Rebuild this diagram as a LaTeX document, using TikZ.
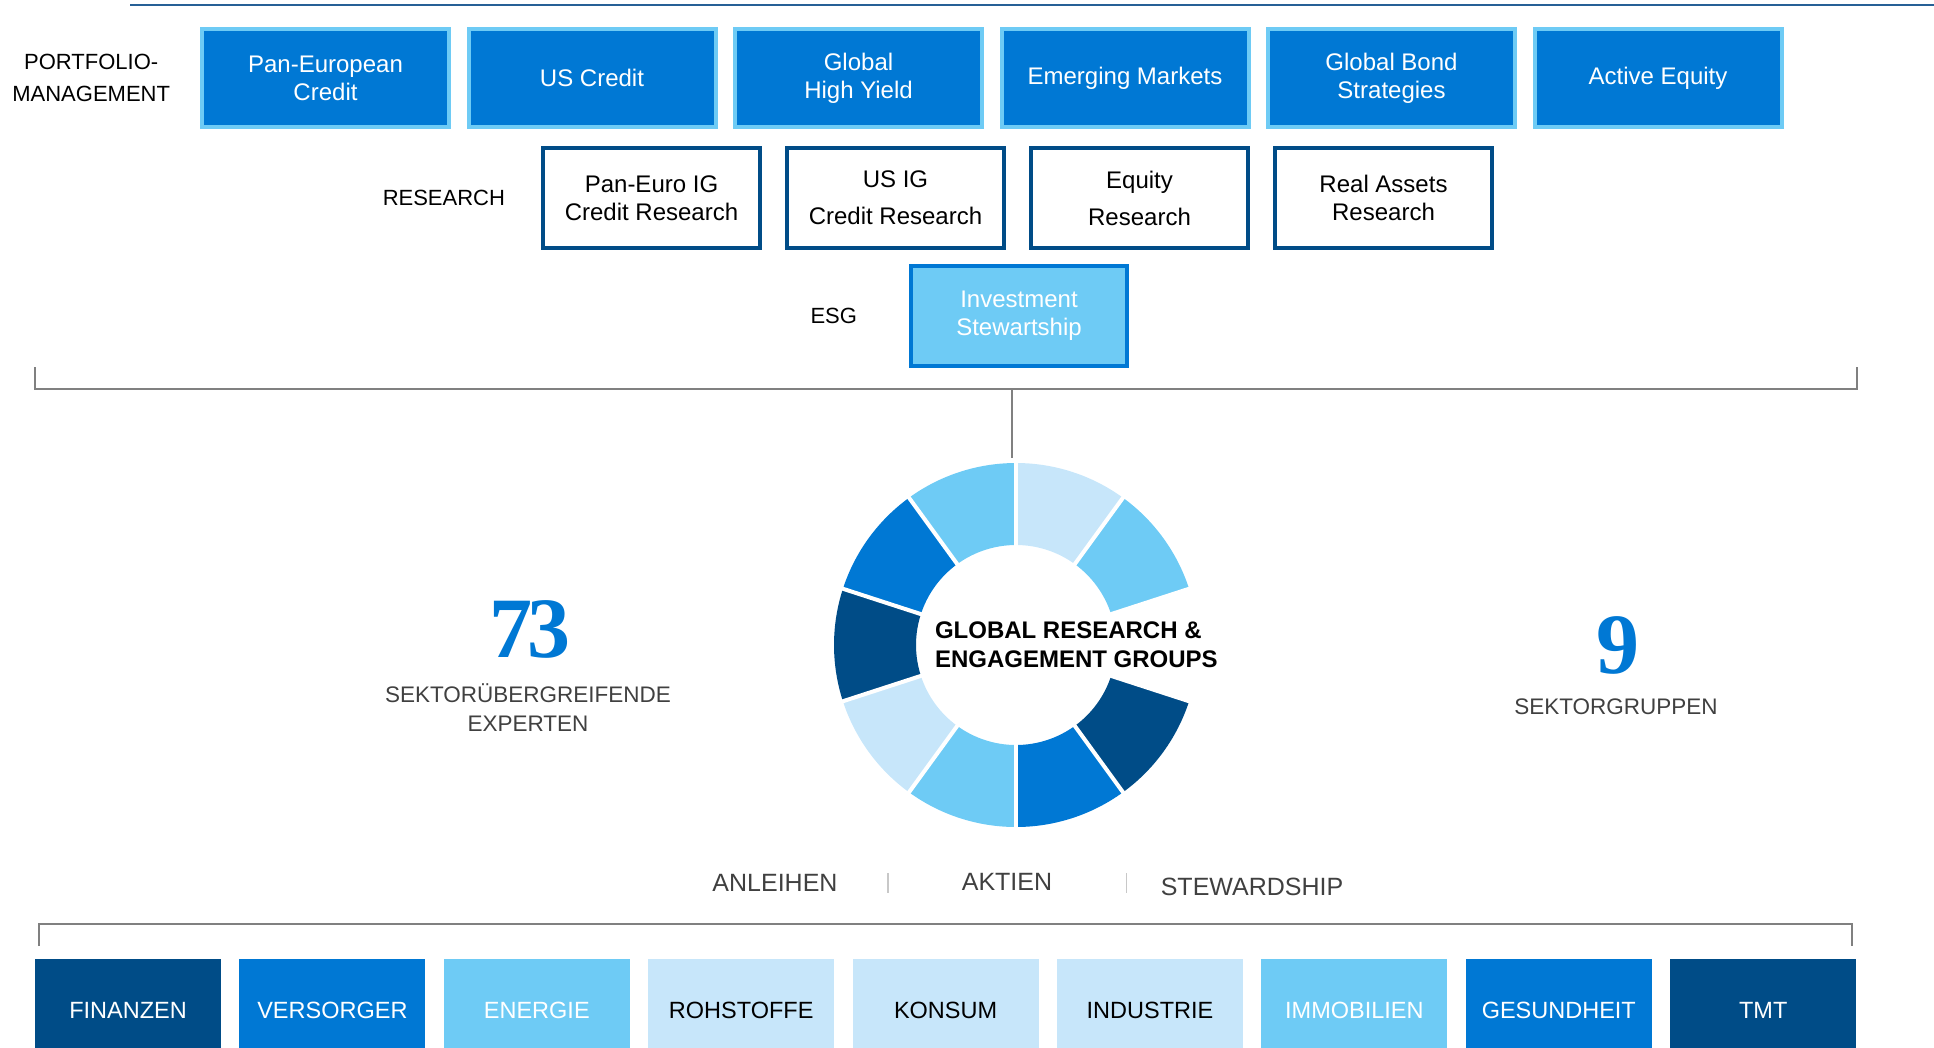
\documentclass[tikz,border=0pt]{standalone}
\usepackage{fontspec}
\setmainfont{Liberation Sans}
\newfontfamily\numberfont{Liberation Serif}
\usetikzlibrary{positioning}

\definecolor{navy}{RGB}{0,76,135}
\definecolor{azure}{RGB}{0,120,212}
\definecolor{sky}{RGB}{110,203,245}
\definecolor{pale}{RGB}{199,230,250}
\definecolor{rule}{RGB}{128,128,128}
\definecolor{divider}{RGB}{200,200,200}
\definecolor{textgray}{RGB}{64,64,64}
\definecolor{topline}{RGB}{38,96,150}

\tikzset{
	pmbox/.style={fill=azure, draw=sky, line width=4pt, minimum width=247pt, minimum height=98pt, text=white, align=center, font=\fontsize{24}{28}\selectfont},
	resbox/.style={fill=white, draw=navy, line width=4pt, minimum width=217pt, minimum height=100pt, align=center, font=\fontsize{24}{28}\selectfont},
	esgbox/.style={fill=sky, draw=azure, line width=4pt, minimum width=216pt, minimum height=100pt, text=white, align=center, font=\fontsize{24}{28}\selectfont},
	sectorbox/.style={minimum width=186pt, minimum height=102pt, font=\fontsize{23.5}{28}\selectfont},
	rowlabel/.style={align=center, font=\fontsize{22}{32}\selectfont},
	bigfigure/.style={text=azure, font=\numberfont\bfseries\fontsize{86}{86}\selectfont},
	figlabel/.style={text=textgray, align=center, font=\fontsize{22.5}{29}\selectfont},
	pillar/.style={text=textgray, font=\fontsize{25}{30}\selectfont},
	bracket/.style={draw=rule, line width=2.5pt},
}

\begin{document}
\begin{tikzpicture}[
		x=1pt, y=1pt,
		every node/.style={inner sep=0pt, outer sep=0pt},
	]
		\useasboundingbox (0,0) rectangle (1934,-1047);
		
		\coordinate (rule start) at (130,-5);
		\coordinate (rule end) at (1934,-5);
		\draw[topline, line width=2.5pt] (rule start) -- (rule end);
		
		\begin{scope}
			\node (pan eu) [pmbox] at (325.5,-78) {Pan-European\\Credit};
			\node (us credit) [pmbox, right=19.5pt of pan eu] {US Credit};
			\node (high yield) [pmbox, right=19.5pt of us credit] {Global\\High Yield};
			\node (em) [pmbox, right=19.5pt of high yield] {Emerging Markets};
			\node (bonds) [pmbox, right=19.5pt of em] {Global Bond\\Strategies};
			\node (active eq) [pmbox, right=19.5pt of bonds] {Active Equity};
			\node (pm label) [rowlabel, left=32pt of pan eu] {PORTFOLIO-\\MANAGEMENT};
	
			\node (res eu) [resbox] at (651.5,-198) {Pan-Euro IG\\Credit Research};
			\node (res us) [resbox, right=27pt of res eu] {US IG\\[9pt]Credit Research};
			\node (res eq) [resbox, right=27pt of res us] {Equity\\[9pt]Research};
			\node (res ra) [resbox, right=27pt of res eq] {Real Assets\\Research};
			\node (res label) [rowlabel, left=38pt of res eu] {RESEARCH};
	
			\node (esg box) [esgbox] at (1019,-316) {Investment\\Stewartship};
			\node (esg label) [rowlabel, left=54pt of esg box] {ESG};
		\end{scope}
		
		\begin{scope}
			\coordinate (upper left) at (35,-367);
			\coordinate (upper right) at (1857,-367);
			\coordinate (upper bar) at (1012,-389);
			\coordinate (ring top) at (1012,-458);
			\draw[bracket] (upper left) -- ++(0,-22) -| (upper right);
			\draw[bracket] (upper bar) -- (ring top);
		\end{scope}
		
		\begin{scope}
			\coordinate (ring) at (1016,-645);
			\begin{scope}[shift={(ring)}]
				\foreach \a/\col in {54/pale, 18/sky, -54/navy, -90/azure, -126/sky, -162/pale, 162/navy, 126/azure, 90/sky}
					\fill[\col] (\a:182pt) arc[start angle=\a, end angle=\a+36, radius=182pt] -- (\a+36:100pt) arc[start angle=\a+36, end angle=\a, radius=100pt] -- cycle;
				\foreach \k in {0,...,9}
					\draw[white, line width=4pt] (18+36*\k:97pt) -- (18+36*\k:185pt);
			\end{scope}
			\node (ring text) [anchor=west, align=left, font=\bfseries\fontsize{24}{29}\selectfont] at (935,-645) {GLOBAL RESEARCH \&\\ENGAGEMENT GROUPS};
		\end{scope}
		
		\begin{scope}
			\node (experts) [bigfigure] at (530,-629) {7\kern-5pt 3};
			\node (experts text) [figlabel] at (528,-707.5) {SEKTORÜBERGREIFENDE\\EXPERTEN};
			\node (groups) [bigfigure] at (1618,-645) {9};
			\node (groups text) [figlabel] at (1616,-707) {SEKTORGRUPPEN};
		\end{scope}
		
		\begin{scope}
			\node (bonds pillar) [pillar] at (775,-883) {ANLEIHEN};
			\node (equity pillar) [pillar] at (1007,-882) {AKTIEN};
			\node (stewardship pillar) [pillar] at (1252,-887) {STEWARDSHIP};
			\coordinate (sep a top) at (888,-873);
			\coordinate (sep a bottom) at (888,-893);
			\coordinate (sep b top) at (1126.5,-873);
			\coordinate (sep b bottom) at (1126.5,-893);
			\draw[divider, line width=1.5pt] (sep a top) -- (sep a bottom);
			\draw[divider, line width=1.5pt] (sep b top) -- (sep b bottom);
		\end{scope}
		
		\begin{scope}
			\coordinate (lower left) at (39,-946);
			\coordinate (lower right) at (1852,-946);
			\draw[bracket] (lower left) -- ++(0,22) -| (lower right);
	
			\node (fin) [sectorbox, fill=navy, text=white] at (128,-1010) {FINANZEN};
			\node (util) [sectorbox, fill=azure, text=white, right=18.4pt of fin] {VERSORGER};
			\node (energy) [sectorbox, fill=sky, text=white, right=18.4pt of util] {ENERGIE};
			\node (materials) [sectorbox, fill=pale, right=18.4pt of energy] {ROHSTOFFE};
			\node (consumer) [sectorbox, fill=pale, right=18.4pt of materials] {KONSUM};
			\node (industry) [sectorbox, fill=pale, right=18.4pt of consumer] {INDUSTRIE};
			\node (property) [sectorbox, fill=sky, text=white, right=18.4pt of industry] {IMMOBILIEN};
			\node (health) [sectorbox, fill=azure, text=white, right=18.4pt of property] {GESUNDHEIT};
			\node (tmt) [sectorbox, fill=navy, text=white, right=18.4pt of health] {TMT};
		\end{scope}
	\end{tikzpicture}
\end{document}
